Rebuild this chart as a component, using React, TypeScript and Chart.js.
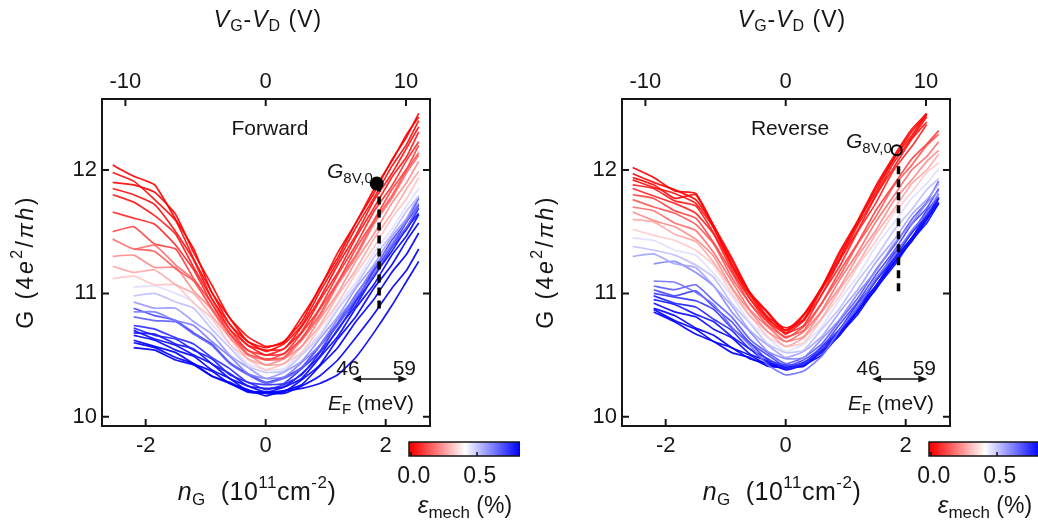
import React, { useEffect, useRef } from "react";
import { Chart, registerables } from "chart.js";

Chart.register(...registerables);

const FONT = "'Liberation Sans', Arial, Helvetica, sans-serif";

// carrier density grid (10^11 cm^-2) shared by all traces
const N_GRID = [-2.55, -2.2, -1.85, -1.5, -1.2, -0.9, -0.6, -0.3, 0, 0.3, 0.6, 0.9, 1.2, 1.5, 1.8, 2.1, 2.35, 2.55];

// axis ticks
const N_TICKS = [-2, 0, 2];
const V_TICKS = [-10, 0, 10];
const G_TICKS = [10, 11, 12];
const CBAR_TICKS = [0.0, 0.5];

// axis ranges
const N_RANGE = [-2.728, 2.738];
const V_RANGE = [-11.67, 11.71];
const G_RANGE = [9.925, 12.576];

// strain colour scale (%)
const CBAR_WHITE = 0.41;
const CBAR_MAX = 0.826;

// Forward sweep: strain of each trace (%)
const FWD_STRAIN = [0.0, 0.01, 0.02, 0.03, 0.05, 0.08, 0.12, 0.16, 0.2, 0.25, 0.3, 0.35, 0.42, 0.48, 0.55, 0.6, 0.65, 0.7, 0.74, 0.77, 0.79, 0.81, 0.82, 0.83, 0.83, 0.83];
// Forward sweep: conductance G (4e^2/πh) on N_GRID
const FWD_G: (number | null)[][] = [
  [12.04, 11.95, 11.88, 11.60, 11.36, 11.01, 10.80, 10.61, 10.56, 10.61, 10.77, 11.05, 11.29, 11.57, 11.81, 12.08, 12.27, 12.46],
  [11.90, 11.88, 11.82, 11.64, 11.33, 11.07, 10.80, 10.65, 10.57, 10.60, 10.81, 11.04, 11.33, 11.57, 11.84, 12.07, 12.29, 12.43],
  [11.98, 11.91, 11.76, 11.59, 11.28, 11.01, 10.75, 10.61, 10.53, 10.59, 10.74, 11.01, 11.26, 11.53, 11.77, 12.03, 12.21, 12.40],
  [11.85, 11.80, 11.72, 11.50, 11.27, 10.96, 10.75, 10.58, 10.54, 10.55, 10.73, 10.96, 11.23, 11.47, 11.75, 11.97, 12.18, 12.35],
  [11.80, 11.74, 11.63, 11.48, 11.21, 10.96, 10.71, 10.58, 10.50, 10.55, 10.69, 10.94, 11.17, 11.45, 11.69, 11.94, 12.11, 12.31],
  [11.66, 11.61, 11.56, 11.39, 11.19, 10.92, 10.71, 10.54, 10.50, 10.51, 10.68, 10.88, 11.15, 11.39, 11.66, 11.87, 12.08, 12.23],
  [11.50, 11.54, 11.40, 11.36, 11.12, 10.92, 10.67, 10.54, 10.46, 10.51, 10.63, 10.87, 11.09, 11.36, 11.59, 11.84, 12.01, 12.20],
  [null, 11.36, 11.34, 11.20, 11.10, 10.88, 10.68, 10.51, 10.47, 10.48, 10.64, 10.83, 11.09, 11.31, 11.58, 11.79, 12.00, 12.14],
  [11.44, 11.36, 11.39, 11.23, 11.11, 10.87, 10.67, 10.50, 10.46, 10.47, 10.62, 10.81, 11.07, 11.29, 11.56, 11.77, 11.98, 12.12],
  [11.30, 11.31, 11.21, 11.21, 11.02, 10.87, 10.64, 10.51, 10.42, 10.47, 10.57, 10.79, 11.00, 11.26, 11.48, 11.73, 11.90, 12.07],
  [11.22, 11.17, 11.19, 11.07, 11.00, 10.82, 10.64, 10.47, 10.42, 10.43, 10.57, 10.74, 10.98, 11.19, 11.44, 11.65, 11.85, 11.99],
  [11.12, 11.14, 11.07, 11.07, 10.92, 10.80, 10.59, 10.47, 10.38, 10.43, 10.52, 10.72, 10.92, 11.16, 11.37, 11.61, 11.77, 11.94],
  [null, 11.05, 11.06, 11.00, 10.93, 10.75, 10.59, 10.43, 10.38, 10.39, 10.52, 10.67, 10.90, 11.09, 11.33, 11.52, 11.71, 11.85],
  [null, 10.98, 11.00, 10.93, 10.88, 10.71, 10.56, 10.41, 10.36, 10.37, 10.50, 10.65, 10.87, 11.06, 11.29, 11.48, 11.67, 11.79],
  [null, 10.93, 10.88, 10.88, 10.77, 10.67, 10.50, 10.40, 10.31, 10.36, 10.45, 10.63, 10.81, 11.04, 11.23, 11.46, 11.61, 11.79],
  [null, 10.85, 10.85, 10.78, 10.74, 10.61, 10.49, 10.35, 10.31, 10.32, 10.44, 10.58, 10.79, 10.98, 11.21, 11.40, 11.59, 11.73],
  [null, 10.81, 10.78, 10.77, 10.67, 10.58, 10.43, 10.34, 10.27, 10.31, 10.39, 10.57, 10.74, 10.96, 11.15, 11.38, 11.54, 11.71],
  [null, 10.88, 10.82, 10.78, 10.68, 10.59, 10.44, 10.35, 10.28, 10.32, 10.40, 10.58, 10.76, 10.99, 11.19, 11.43, 11.59, 11.77],
  [null, 10.74, 10.71, 10.64, 10.59, 10.48, 10.39, 10.28, 10.26, 10.27, 10.39, 10.53, 10.75, 10.94, 11.18, 11.38, 11.58, 11.72],
  [null, 10.72, 10.66, 10.63, 10.54, 10.47, 10.34, 10.28, 10.22, 10.26, 10.34, 10.52, 10.70, 10.93, 11.13, 11.37, 11.52, 11.69],
  [null, 10.68, 10.67, 10.59, 10.55, 10.43, 10.35, 10.25, 10.23, 10.24, 10.35, 10.49, 10.71, 10.90, 11.14, 11.34, 11.53, 11.65],
  [null, 10.70, 10.63, 10.58, 10.50, 10.43, 10.31, 10.25, 10.20, 10.24, 10.31, 10.48, 10.65, 10.88, 11.07, 11.31, 11.47, 11.64],
  [null, 10.66, 10.62, 10.54, 10.49, 10.38, 10.31, 10.21, 10.20, 10.20, 10.30, 10.42, 10.63, 10.81, 11.04, 11.23, 11.43, 11.57],
  [null, 10.62, 10.57, 10.52, 10.43, 10.37, 10.27, 10.22, 10.17, 10.21, 10.26, 10.41, 10.56, 10.77, 10.95, 11.17, 11.32, 11.49],
  [null, 10.60, 10.56, 10.48, 10.43, 10.33, 10.27, 10.20, 10.19, 10.19, 10.25, 10.33, 10.46, 10.64, 10.83, 11.04, 11.19, 11.36],
  [null, 10.56, 10.54, 10.46, 10.42, 10.33, 10.28, 10.21, 10.20, 10.21, 10.23, 10.27, 10.34, 10.48, 10.68, 10.90, 11.10, 11.26],
];

// Reverse sweep: strain of each trace (%)
const REV_STRAIN = [0.0, 0.01, 0.02, 0.03, 0.05, 0.07, 0.12, 0.16, 0.2, 0.25, 0.3, 0.36, 0.42, 0.48, 0.53, 0.58, 0.62, 0.66, 0.7, 0.73, 0.76, 0.79, 0.81, 0.82, 0.83, 0.83];
// Reverse sweep: conductance G (4e^2/πh) on N_GRID
const REV_G: (number | null)[][] = [
  [12.02, 11.94, 11.83, 11.81, 11.55, 11.29, 11.01, 10.85, 10.70, 10.83, 11.05, 11.34, 11.59, 11.87, 12.11, 12.33, 12.46, null],
  [11.97, 11.90, 11.84, 11.76, 11.55, 11.24, 11.01, 10.81, 10.72, 10.79, 11.05, 11.29, 11.58, 11.82, 12.09, 12.28, 12.45, null],
  [11.94, 11.88, 11.77, 11.80, 11.53, 11.27, 11.00, 10.84, 10.68, 10.82, 11.04, 11.32, 11.57, 11.85, 12.09, 12.31, 12.45, null],
  [11.92, 11.86, 11.81, 11.73, 11.53, 11.22, 10.99, 10.79, 10.70, 10.78, 11.03, 11.27, 11.55, 11.79, 12.06, 12.26, 12.43, null],
  [11.88, 11.85, 11.75, 11.71, 11.49, 11.23, 10.96, 10.80, 10.67, 10.78, 10.99, 11.27, 11.51, 11.79, 12.02, 12.25, 12.39, null],
  [11.85, 11.79, 11.73, 11.65, 11.48, 11.19, 10.96, 10.77, 10.68, 10.74, 10.99, 11.22, 11.50, 11.73, 12.00, 12.19, 12.37, null],
  [11.80, 11.77, 11.67, 11.61, 11.41, 11.17, 10.92, 10.77, 10.64, 10.73, 10.92, 11.18, 11.41, 11.67, 11.88, 12.09, 12.21, 12.32],
  [11.76, 11.70, 11.65, 11.56, 11.40, 11.13, 10.92, 10.74, 10.65, 10.70, 10.92, 11.14, 11.40, 11.62, 11.87, 12.04, 12.20, 12.29],
  [11.70, 11.67, 11.57, 11.51, 11.33, 11.10, 10.87, 10.73, 10.61, 10.69, 10.86, 11.11, 11.33, 11.58, 11.79, 12.00, 12.11, 12.23],
  [11.66, 11.59, 11.54, 11.44, 11.30, 11.05, 10.86, 10.69, 10.61, 10.65, 10.85, 11.05, 11.30, 11.51, 11.75, 11.92, 12.07, 12.16],
  [11.60, 11.58, 11.48, 11.42, 11.25, 11.04, 10.82, 10.69, 10.57, 10.64, 10.80, 11.03, 11.24, 11.48, 11.68, 11.89, 12.00, 12.13],
  [11.52, 11.47, 11.43, 11.35, 11.23, 11.00, 10.82, 10.65, 10.57, 10.60, 10.79, 10.98, 11.22, 11.42, 11.65, 11.82, 11.98, 12.06],
  [11.45, 11.43, 11.35, 11.31, 11.16, 10.98, 10.77, 10.64, 10.53, 10.59, 10.73, 10.95, 11.14, 11.38, 11.57, 11.77, 11.89, 12.01],
  [11.38, 11.35, 11.31, 11.23, 11.13, 10.92, 10.76, 10.59, 10.52, 10.54, 10.71, 10.88, 11.10, 11.29, 11.51, 11.68, 11.84, 11.93],
  [11.30, 11.32, 11.24, 11.21, 11.06, 10.90, 10.70, 10.58, 10.48, 10.53, 10.65, 10.85, 11.03, 11.25, 11.43, 11.64, 11.76, 11.89],
  [null, 11.24, 11.26, 11.17, 11.06, 10.85, 10.69, 10.53, 10.47, 10.48, 10.63, 10.79, 11.00, 11.18, 11.40, 11.57, 11.73, 11.83],
  [null, 11.10, 11.09, 11.01, 10.91, 10.73, 10.58, 10.42, 10.34, 10.37, 10.49, 10.70, 10.89, 11.12, 11.30, 11.51, 11.65, 11.81],
  [null, 11.06, 11.03, 11.07, 10.94, 10.81, 10.63, 10.52, 10.43, 10.48, 10.59, 10.78, 10.96, 11.19, 11.38, 11.60, 11.74, 11.91],
  [null, 11.03, 10.98, 11.02, 10.89, 10.77, 10.60, 10.50, 10.41, 10.46, 10.56, 10.75, 10.93, 11.15, 11.34, 11.56, 11.69, 11.85],
  [null, 11.00, 10.97, 10.94, 10.87, 10.72, 10.60, 10.46, 10.42, 10.43, 10.57, 10.71, 10.92, 11.10, 11.32, 11.49, 11.67, 11.78],
  [null, 10.98, 10.92, 10.89, 10.79, 10.70, 10.55, 10.47, 10.39, 10.44, 10.53, 10.71, 10.88, 11.10, 11.28, 11.49, 11.63, 11.78],
  [null, 10.95, 10.91, 10.83, 10.77, 10.65, 10.55, 10.44, 10.41, 10.41, 10.54, 10.67, 10.88, 11.05, 11.27, 11.44, 11.62, 11.74],
  [null, 10.92, 10.85, 10.81, 10.71, 10.64, 10.51, 10.45, 10.38, 10.42, 10.50, 10.67, 10.83, 11.04, 11.22, 11.43, 11.57, 11.73],
  [null, 10.88, 10.82, 10.72, 10.66, 10.56, 10.50, 10.42, 10.41, 10.41, 10.53, 10.66, 10.86, 11.03, 11.25, 11.42, 11.60, 11.73],
  [null, 10.87, 10.78, 10.71, 10.61, 10.56, 10.47, 10.43, 10.39, 10.44, 10.52, 10.69, 10.85, 11.06, 11.24, 11.45, 11.60, 11.77],
  [null, 10.85, 10.77, 10.67, 10.61, 10.52, 10.48, 10.41, 10.40, 10.43, 10.56, 10.69, 10.89, 11.06, 11.28, 11.45, 11.64, 11.77],
];

// G_8V,0 markers and dashed guide lines [n, G]
const FWD_MARK = [1.85, 11.89];
const FWD_GUIDE = [[1.89, 11.89], [1.89, 10.84]];
const REV_MARK = [1.85, 12.16];
const REV_GUIDE = [[1.88, 12.03], [1.88, 11.01]];

// E_F range arrow (n positions, G level) and labels
const EF_ARROW_N = [1.44, 2.36];
const EF_ARROW_G = 10.306;
const EF_LABEL_N = [1.37, 2.31];
const EF_LABELS = ["46", "59"];

type Seg = { t: string; it?: boolean; sz: number; dy?: number };

function strainColor(e: number): string {
  if (e <= CBAR_WHITE) {
    const c = Math.round(255 * (e / CBAR_WHITE) * 0.9);
    return `rgba(255,${c},${c},0.92)`;
  }
  const t = Math.min(1, (e - CBAR_WHITE) / (CBAR_MAX - CBAR_WHITE));
  const c = Math.round(255 * (1 - t) * 0.9);
  return `rgba(${c},${c},255,0.92)`;
}

function setFont(ctx: CanvasRenderingContext2D, s: Seg) {
  ctx.font = `${s.it ? "italic " : ""}${s.sz}px ${FONT}`;
}

function drawRich(ctx: CanvasRenderingContext2D, segs: Seg[], x: number, y: number, align: "left" | "center", spacing = 0) {
  ctx.save();
  (ctx as any).letterSpacing = `${spacing}px`;
  ctx.textAlign = "left";
  ctx.textBaseline = "alphabetic";
  let w = 0;
  for (const s of segs) {
    setFont(ctx, s);
    w += ctx.measureText(s.t).width;
  }
  let cx = align === "center" ? x - w / 2 : x;
  for (const s of segs) {
    setFont(ctx, s);
    ctx.fillText(s.t, cx, y + (s.dy || 0));
    cx += ctx.measureText(s.t).width;
  }
  ctx.restore();
}

type PanelProps = {
  curves: (number | null)[][];
  strains: number[];
  label: string;
  mark: number[];
  guide: number[][];
  open: boolean;
  left: number;
  width: number;
  padRight: number;
  topTitleX: number;
  bottomTitleX: number;
  gLabel: number[];
};

function Panel(p: PanelProps) {
  const ref = useRef<HTMLCanvasElement>(null);
  useEffect(() => {
    const canvas = ref.current;
    if (!canvas) return;
    const ink = "#161616";
    const tickFont = { family: FONT, size: 22 };

    const decor = {
      id: "decor",
      afterDraw(chart: any) {
        const { ctx, chartArea: a, scales } = chart;
        ctx.save();
        ctx.fillStyle = ink;
        ctx.strokeStyle = ink;
        // frame
        ctx.lineWidth = 2;
        ctx.strokeRect(a.left, a.top, a.right - a.left, a.bottom - a.top);
        // inward ticks
        const TL = 7;
        ctx.beginPath();
        N_TICKS.forEach((v) => {
          const x = scales.x.getPixelForValue(v);
          ctx.moveTo(x, a.bottom);
          ctx.lineTo(x, a.bottom - TL);
        });
        V_TICKS.forEach((v) => {
          const x = scales.x2.getPixelForValue(v);
          ctx.moveTo(x, a.top);
          ctx.lineTo(x, a.top + TL);
        });
        G_TICKS.forEach((v) => {
          const y = scales.y.getPixelForValue(v);
          ctx.moveTo(a.left, y);
          ctx.lineTo(a.left + TL, y);
          ctx.moveTo(a.right, y);
          ctx.lineTo(a.right - TL, y);
        });
        ctx.stroke();

        // top axis title
        drawRich(ctx, [
          { t: "V", it: true, sz: 23 },
          { t: "G", sz: 16, dy: 4 },
          { t: "-", sz: 23 },
          { t: "V", it: true, sz: 23 },
          { t: "D", sz: 16, dy: 4 },
          { t: " (V)", sz: 23 },
        ], p.topTitleX, 27, "center", 1);

        // y axis title
        ctx.save();
        ctx.translate(33, 262);
        ctx.rotate(-Math.PI / 2);
        drawRich(ctx, [
          { t: "G (4", sz: 23 },
          { t: "e", it: true, sz: 23 },
          { t: "2", sz: 16, dy: -11 },
          { t: "/", sz: 23 },
          { t: "πh", it: true, sz: 23 },
          { t: ")", sz: 23 },
        ], 0, 0, "center", 2.5);
        ctx.restore();

        // bottom axis title
        drawRich(ctx, [
          { t: "n", it: true, sz: 25 },
          { t: "G", sz: 17, dy: 5 },
          { t: "  (10", sz: 25 },
          { t: "11", sz: 17, dy: -12 },
          { t: "cm", sz: 25 },
          { t: "-2", sz: 17, dy: -12 },
          { t: ")", sz: 25 },
        ], p.bottomTitleX, 500, "center", 0.5);

        // panel label
        drawRich(ctx, [{ t: p.label, sz: 21 }], 270, 135, "center");

        // G_8V,0 label
        drawRich(ctx, [
          { t: "G", it: true, sz: 21 },
          { t: "8V,0", sz: 15, dy: 5 },
        ], p.gLabel[0], p.gLabel[1], "left");

        // E_F arrow
        const ay = scales.y.getPixelForValue(EF_ARROW_G);
        const ax1 = scales.x.getPixelForValue(EF_ARROW_N[0]);
        const ax2 = scales.x.getPixelForValue(EF_ARROW_N[1]);
        ctx.lineWidth = 1.5;
        ctx.beginPath();
        ctx.moveTo(ax1 + 4, ay);
        ctx.lineTo(ax2 - 4, ay);
        ctx.stroke();
        ctx.beginPath();
        ctx.moveTo(ax1, ay);
        ctx.lineTo(ax1 + 9, ay - 3.5);
        ctx.lineTo(ax1 + 9, ay + 3.5);
        ctx.closePath();
        ctx.moveTo(ax2, ay);
        ctx.lineTo(ax2 - 9, ay - 3.5);
        ctx.lineTo(ax2 - 9, ay + 3.5);
        ctx.closePath();
        ctx.fill();
        EF_LABELS.forEach((t, i) => {
          drawRich(ctx, [{ t, sz: 21 }], scales.x.getPixelForValue(EF_LABEL_N[i]), ay - 4, "center");
        });
        drawRich(ctx, [
          { t: "E", it: true, sz: 21 },
          { t: "F", sz: 15, dy: 4 },
          { t: " (meV)", sz: 21 },
        ], 371, 410, "center");

        // colour bar
        const e2x = (e: number) => 411 + e * 132;
        const cx0 = 409;
        const cx1 = e2x(CBAR_MAX);
        const cy0 = 442;
        const cy1 = 456;
        const grad = ctx.createLinearGradient(e2x(0), 0, cx1, 0);
        grad.addColorStop(0, "rgb(255,0,0)");
        grad.addColorStop(CBAR_WHITE / CBAR_MAX, "rgb(255,255,255)");
        grad.addColorStop(1, "rgb(0,0,255)");
        ctx.fillStyle = grad;
        ctx.fillRect(cx0, cy0, cx1 - cx0, cy1 - cy0);
        ctx.lineWidth = 1.5;
        ctx.strokeStyle = ink;
        ctx.strokeRect(cx0, cy0, cx1 - cx0, cy1 - cy0);
        ctx.beginPath();
        CBAR_TICKS.forEach((v) => {
          ctx.moveTo(e2x(v), cy1);
          ctx.lineTo(e2x(v), cy1 - 4);
        });
        ctx.stroke();
        ctx.fillStyle = ink;
        CBAR_TICKS.forEach((v) => {
          drawRich(ctx, [{ t: v.toFixed(1), sz: 23 }], e2x(v) + 3, 483, "center", 0.5);
        });
        drawRich(ctx, [
          { t: "ε", it: true, sz: 24 },
          { t: "mech", sz: 17, dy: 5 },
          { t: " (%)", sz: 23 },
        ], 465, 513, "center");
        ctx.restore();
      },
    };

    const traces = p.curves.map((ys, i) => ({
      type: "line" as const,
      data: N_GRID.map((n, j) => ({ x: n, y: ys[j] })).filter((pt) => pt.y !== null),
      borderColor: strainColor(p.strains[i]),
      borderWidth: 1.7,
      pointRadius: 0,
      tension: 0.15,
      fill: false,
      order: 2,
    }));

    const guide = {
      type: "line" as const,
      data: p.guide.map(([x, y]) => ({ x, y })),
      borderColor: "#000",
      borderWidth: 3.5,
      borderDash: [8, 5],
      pointRadius: 0,
      fill: false,
      order: 1,
    };

    const mark = {
      type: "line" as const,
      data: [{ x: p.mark[0], y: p.mark[1] }],
      showLine: false,
      pointRadius: p.open ? 5 : 7,
      pointBorderWidth: p.open ? 2 : 0,
      pointBorderColor: "#000",
      pointBackgroundColor: p.open ? "rgba(255,255,255,0)" : "#000",
      order: 0,
    };

    const chart = new Chart(canvas, {
      type: "line",
      data: { datasets: [mark, guide, ...traces] as any },
      options: {
        responsive: false,
        maintainAspectRatio: false,
        animation: false,
        devicePixelRatio: 1,
        events: [],
        layout: { padding: { left: 0, top: 0, bottom: 0, right: p.padRight } },
        plugins: { legend: { display: false }, tooltip: { enabled: false } },
        scales: {
          x: {
            type: "linear",
            position: "bottom",
            min: N_RANGE[0],
            max: N_RANGE[1],
            grid: { display: false, drawTicks: false },
            border: { display: false },
            ticks: { font: tickFont, color: ink, padding: 7, callback: (v: any) => String(v) },
            afterBuildTicks: (s: any) => {
              s.ticks = N_TICKS.map((v) => ({ value: v }));
            },
            afterFit: (s: any) => {
              s.height = 103;
            },
          },
          x2: {
            type: "linear",
            axis: "x",
            position: "top",
            min: V_RANGE[0],
            max: V_RANGE[1],
            grid: { display: false, drawTicks: false },
            border: { display: false },
            ticks: { font: tickFont, color: ink, padding: 4, callback: (v: any) => String(v) },
            afterBuildTicks: (s: any) => {
              s.ticks = V_TICKS.map((v) => ({ value: v }));
            },
            afterFit: (s: any) => {
              s.height = 99;
            },
          },
          y: {
            type: "linear",
            position: "left",
            min: G_RANGE[0],
            max: G_RANGE[1],
            grid: { display: false, drawTicks: false },
            border: { display: false },
            ticks: { font: tickFont, color: ink, padding: 5, callback: (v: any) => String(v) },
            afterBuildTicks: (s: any) => {
              s.ticks = G_TICKS.map((v) => ({ value: v }));
            },
            afterFit: (s: any) => {
              s.width = 102;
            },
          },
        },
      } as any,
      plugins: [decor],
    });
    return () => chart.destroy();
  }, []);
  return (
    <canvas
      ref={ref}
      width={p.width}
      height={529}
      style={{ position: "absolute", left: p.left, top: 0, width: p.width, height: 529 }}
    />
  );
}

export default function App() {
  return (
    <div style={{ position: "fixed", left: 0, top: 0, width: 1038, height: 529, background: "#fff", overflow: "hidden" }}>
      <Panel
        curves={FWD_G}
        strains={FWD_STRAIN}
        label="Forward"
        mark={FWD_MARK}
        guide={FWD_GUIDE}
        open={false}
        left={0}
        width={520}
        padRight={90}
        topTitleX={268}
        bottomTitleX={257}
        gLabel={[327, 178]}
      />
      <Panel
        curves={REV_G}
        strains={REV_STRAIN}
        label="Reverse"
        mark={REV_MARK}
        guide={REV_GUIDE}
        open={true}
        left={520}
        width={518}
        padRight={88}
        topTitleX={272}
        bottomTitleX={262}
        gLabel={[326, 148]}
      />
    </div>
  );
}
